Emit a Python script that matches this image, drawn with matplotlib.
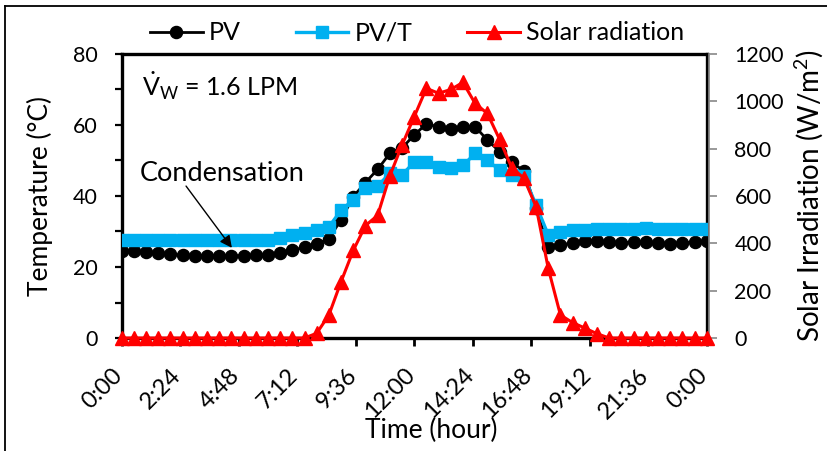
import numpy as np
import matplotlib
matplotlib.use("Agg")
import matplotlib.pyplot as plt
from matplotlib.lines import Line2D
from matplotlib.transforms import ScaledTranslation
from matplotlib.ticker import MultipleLocator

plt.rcParams['font.family'] = ['Lato', 'DejaVu Sans']
plt.rcParams['mathtext.fontset'] = 'custom'
plt.rcParams['mathtext.rm'] = 'Lato'
plt.rcParams['mathtext.it'] = 'Lato:italic'
plt.rcParams['mathtext.bf'] = 'Lato:bold'

# ---- data (30-min samples over 24 h) ----
time_hours = np.arange(49) * 0.5

pv_temp = [24.6, 24.5, 24.3, 24.0, 23.6, 23.3, 23.2, 23.1, 23.1, 23.1,
           23.2, 23.3, 23.5, 23.9, 24.8, 25.5, 26.5, 28.0, 33.3, 39.8,
           43.8, 47.5, 52.0, 53.5, 57.2, 60.3, 59.5, 59.0, 59.5, 59.5,
           55.8, 52.5, 49.5, 47.0, 36.5, 25.5, 26.2, 26.8, 27.3, 27.3,
           27.0, 26.8, 27.0, 27.0, 26.8, 26.6, 26.8, 27.0, 27.2]

pvt_temp = [27.6, 27.6, 27.6, 27.6, 27.6, 27.6, 27.6, 27.6, 27.6, 27.6,
            27.6, 27.6, 27.6, 28.2, 29.0, 29.6, 30.4, 31.3, 36.0, 38.9,
            42.2, 42.8, 46.4, 46.0, 49.5, 49.7, 48.3, 48.0, 48.6, 52.0,
            50.1, 47.3, 45.9, 45.5, 37.5, 29.0, 29.8, 30.4, 30.4, 30.6,
            30.6, 30.8, 30.8, 30.9, 30.8, 30.8, 30.7, 30.7, 30.7]

solar_rad = [0, 0, 0, 0, 0, 0, 0, 0, 0, 0,
             0, 0, 0, 0, 0, 0, 20, 97, 238, 370,
             475, 518, 685, 815, 935, 1055, 1034, 1050, 1080, 991,
             949, 840, 720, 675, 555, 294, 97, 65, 42, 18,
             0, 0, 0, 0, 0, 0, 0, 0, 0]

xtick_hours = [0, 2.4, 4.8, 7.2, 9.6, 12, 14.4, 16.8, 19.2, 21.6, 24]
xtick_labels = ['0:00', '2:24', '4:48', '7:12', '9:36', '12:00', '14:24',
                '16:48', '19:12', '21:36', '0:00']

BLUE = '#00B0F0'
RED = '#FF0000'

W, H = 828, 451
fig = plt.figure(figsize=(W / 100, H / 100), dpi=100)
ax = fig.add_axes([121.7 / W, 113 / H, 585 / W, 284 / H])
ax2 = ax.twinx()

l_pv, = ax.plot(time_hours, pv_temp, color='black', lw=2.0, marker='o',
                ms=8.7, zorder=2, label='PV')
l_pvt, = ax.plot(time_hours, pvt_temp, color=BLUE, lw=2.4, marker='s',
                 ms=8.8, zorder=3, label='PV/T')
l_sr, = ax2.plot(time_hours, solar_rad, color=RED, lw=2.2, marker='^',
                 ms=9.8, zorder=3, label='Solar radiation', clip_on=False)

ax.set_xlim(0, 24)
ax.set_ylim(0, 80)
ax2.set_ylim(0, 1200)

ax.yaxis.set_major_locator(MultipleLocator(20))
ax.yaxis.set_minor_locator(MultipleLocator(10))
ax2.yaxis.set_major_locator(MultipleLocator(200))

ax.tick_params(axis='x', direction='out', length=6, width=2, pad=13,
               labelsize=17)
ax.tick_params(axis='y', which='both', direction='out', length=5, width=1.6,
               pad=12, labelsize=15.5)
ax2.tick_params(axis='y', direction='out', length=6, width=1.2,
                color='#888888', pad=12, labelsize=15.5)

ax.set_xticks(xtick_hours)
ax.set_xticklabels(xtick_labels, rotation=45, ha='right', va='top',
                   fontsize=17)
shift = ScaledTranslation(5 / 100, 0, fig.dpi_scale_trans)
for lbl in ax.get_xticklabels():
    lbl.set_transform(lbl.get_transform() + shift)

for s in ['left', 'bottom', 'top', 'right']:
    ax.spines[s].set_linewidth(2.4)
    ax.spines[s].set_color('black')
for s in ['left', 'bottom', 'top']:
    ax2.spines[s].set_visible(False)
ax2.spines['right'].set_color('#888888')
ax2.spines['right'].set_linewidth(1.2)
ax2.spines['right'].set_position(('outward', 2))

ax.set_xlabel('Time (hour)', fontsize=19, va='center', ha='center')
ax.set_ylabel('Temperature (\u00b0C)', fontsize=19, va='center', ha='center')
ax2.set_ylabel('Solar Irradiation (W/m$^{\\mathrm{2}}$)', fontsize=20,
               va='center', ha='center')
ax.xaxis.set_label_coords(0.529, -0.327)
ax.yaxis.set_label_coords(-0.139, 0.5)
ax2.yaxis.set_label_coords(1.175, 0.5)

ax.text(0.83, 71, '$\\dot{\\mathrm{V}}_{\\mathrm{W}}$ = 1.6 LPM', fontsize=18,
        ha='left', va='center')
ax.text(4.12, 46.3, 'Condensation', fontsize=19.5, ha='center', va='center')
ax.annotate('', xy=(4.52, 25.4), xytext=(2.64, 42.8),
            arrowprops=dict(arrowstyle='-|>', color='black', lw=1.0,
                            mutation_scale=18, shrinkA=0, shrinkB=0),
            zorder=5)

fig.legend([l_pv, l_pvt, l_sr], ['PV', 'PV/T', 'Solar radiation'],
           loc='center', bbox_to_anchor=(0.504, 0.927), ncol=3,
           frameon=False, fontsize=18, handlelength=2.1, handletextpad=0.25,
           columnspacing=2.2, borderaxespad=0, borderpad=0)

# outer chart border (left and top visible)
fig.add_artist(Line2D([5 / W, 5 / W], [0, 1 - 6 / H], color='black', lw=1.3,
                      transform=fig.transFigure))
fig.add_artist(Line2D([5 / W, 1], [1 - 6 / H, 1 - 6 / H], color='black',
                      lw=1.3, transform=fig.transFigure))

fig.savefig('out.png', dpi=100)
